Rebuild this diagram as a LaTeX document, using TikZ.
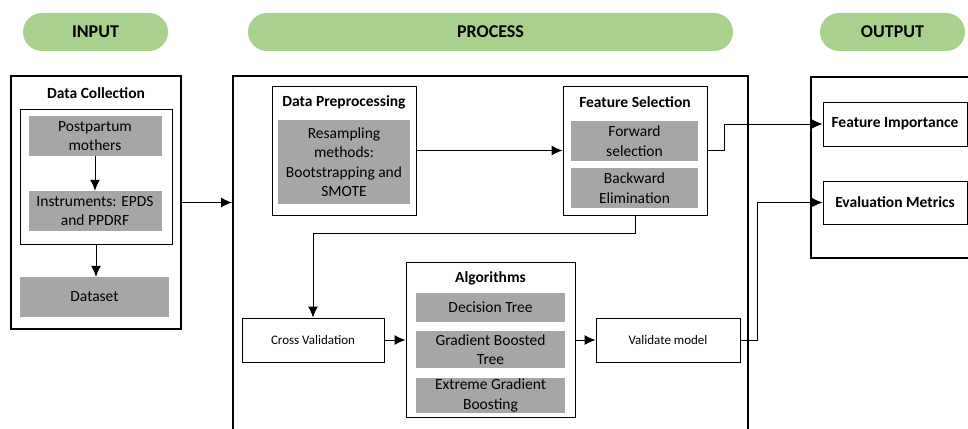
\documentclass[tikz,border=0pt]{standalone}
\usepackage{fontspec}
\setmainfont{Carlito}
\usetikzlibrary{arrows.meta}
\definecolor{pillgreen}{HTML}{A9D18E}
\definecolor{boxgray}{HTML}{A6A6A6}
\tikzset{
	pill/.style={fill=pillgreen, rounded corners=19pt, minimum height=38pt, font=\fontsize{18}{20}\selectfont\bfseries},
	frame/.style={draw, line width=1pt, inner sep=0pt},
	graybox/.style={fill=boxgray, inner sep=0pt, align=center, font=\fontsize{15.5}{19.5}\selectfont},
	head/.style={font=\fontsize{15.5}{18}\selectfont\bfseries},
	plain/.style={draw, line width=1pt, font=\fontsize{13}{15}\selectfont, minimum width=144pt, minimum height=44pt},
	link/.style={line width=1pt, -{Latex[length=11pt, width=10pt]}},
}
\begin{document}
\begin{tikzpicture}[x=1pt, y=-1pt, line join=miter]
	\useasboundingbox (0, 0) rectangle (968, 428);
	
	% Headers
	\node[pill, minimum width=145pt] (inpill) at (95.5, 32) {INPUT};
	\node[pill, minimum width=485pt] (procpill) at (490.5, 32) {PROCESS};
	\node[pill, minimum width=145pt] (outpill) at (892.5, 32) {OUTPUT};
	
	% Input
	\node[draw, line width=2pt, minimum width=170pt, minimum height=253pt] (inbox) at (96, 202.5) {};
	\node[head] (incap) at (96, 93) {Data Collection};
	\node[frame, minimum width=152pt, minimum height=135pt] (collbox) at (96, 176.5) {};
	\node[graybox, minimum width=133pt, minimum height=40pt] (mothers) at (95, 136) {Postpartum\\mothers};
	\node[graybox, minimum width=133pt, minimum height=40pt] (instr) at (95, 211) {Instruments: EPDS\\and PPDRF};
	\node[graybox, minimum width=149pt, minimum height=40pt] (dataset) at (94.5, 297) {Dataset};
	\draw[link] (mothers) -- (instr);
	\draw[link] (collbox.south) -- (collbox.south |- dataset.north);
	
	% Process
	\node[draw, line width=2pt, minimum width=515pt, minimum height=364pt] (procbox) at (490.5, 258) {};
	\draw[link] (inbox.east) -- (inbox.east -| procbox.west);
	
	\node[frame, minimum width=144pt, minimum height=129pt] (prepbox) at (344, 150.5) {};
	\node[head] (prepcap) at (344, 102) {Data Preprocessing};
	\node[graybox, minimum width=132pt, minimum height=84pt] (resamp) at (344, 162) {Resampling\\methods:\\Bootstrapping and\\SMOTE};
	
	\node[frame, minimum width=144pt, minimum height=129pt] (featbox) at (635, 150.5) {};
	\node[head] (featcap) at (635, 102) {Feature Selection};
	\node[graybox, minimum width=127pt, minimum height=40pt] (fwd) at (634.5, 141) {Forward\\selection};
	\node[graybox, minimum width=127pt, minimum height=40pt] (bwd) at (634.5, 188) {Backward\\Elimination};
	\draw[link] (prepbox) -- (featbox);
	
	\node[plain, minimum width=142pt] (cv) at (313, 340) {Cross Validation};
	\draw[link] (featbox.south) -- ++(0, 18) -| (cv.north);
	
	\node[frame, minimum width=169pt, minimum height=155pt] (algbox) at (490.5, 339.5) {};
	\node[head] (algcap) at (490.5, 278) {Algorithms};
	\node[graybox, minimum width=149pt, minimum height=29pt] (dt) at (490.5, 307.5) {Decision Tree};
	\node[graybox, minimum width=149pt, minimum height=37pt] (gbt) at (490.5, 349.5) {Gradient Boosted\\Tree};
	\node[graybox, minimum width=149pt, minimum height=35pt] (xgb) at (490.5, 395.5) {Extreme Gradient\\Boosting};
	\draw[link] (cv.east) -- (cv.east -| algbox.west);
	
	\node[plain] (valbox) at (668, 340) {Validate model};
	\draw[link] (algbox.east |- valbox.west) -- (valbox.west);
	
	% Output
	\node[draw, line width=2pt, minimum width=169pt, minimum height=181pt] (outbox) at (895.5, 167.5) {};
	\node[frame, minimum width=144pt, minimum height=44pt, head] (fimp) at (895, 124) {Feature Importance};
	\node[frame, minimum width=144pt, minimum height=43pt, head] (evm) at (895, 202.5) {Evaluation Metrics};
	\draw[link] (featbox.east) -- ++(17, 0) |- (fimp.west);
	\draw[link] (valbox.east) -- ++(17, 0) |- (evm.west);
	
\end{tikzpicture}
\end{document}
